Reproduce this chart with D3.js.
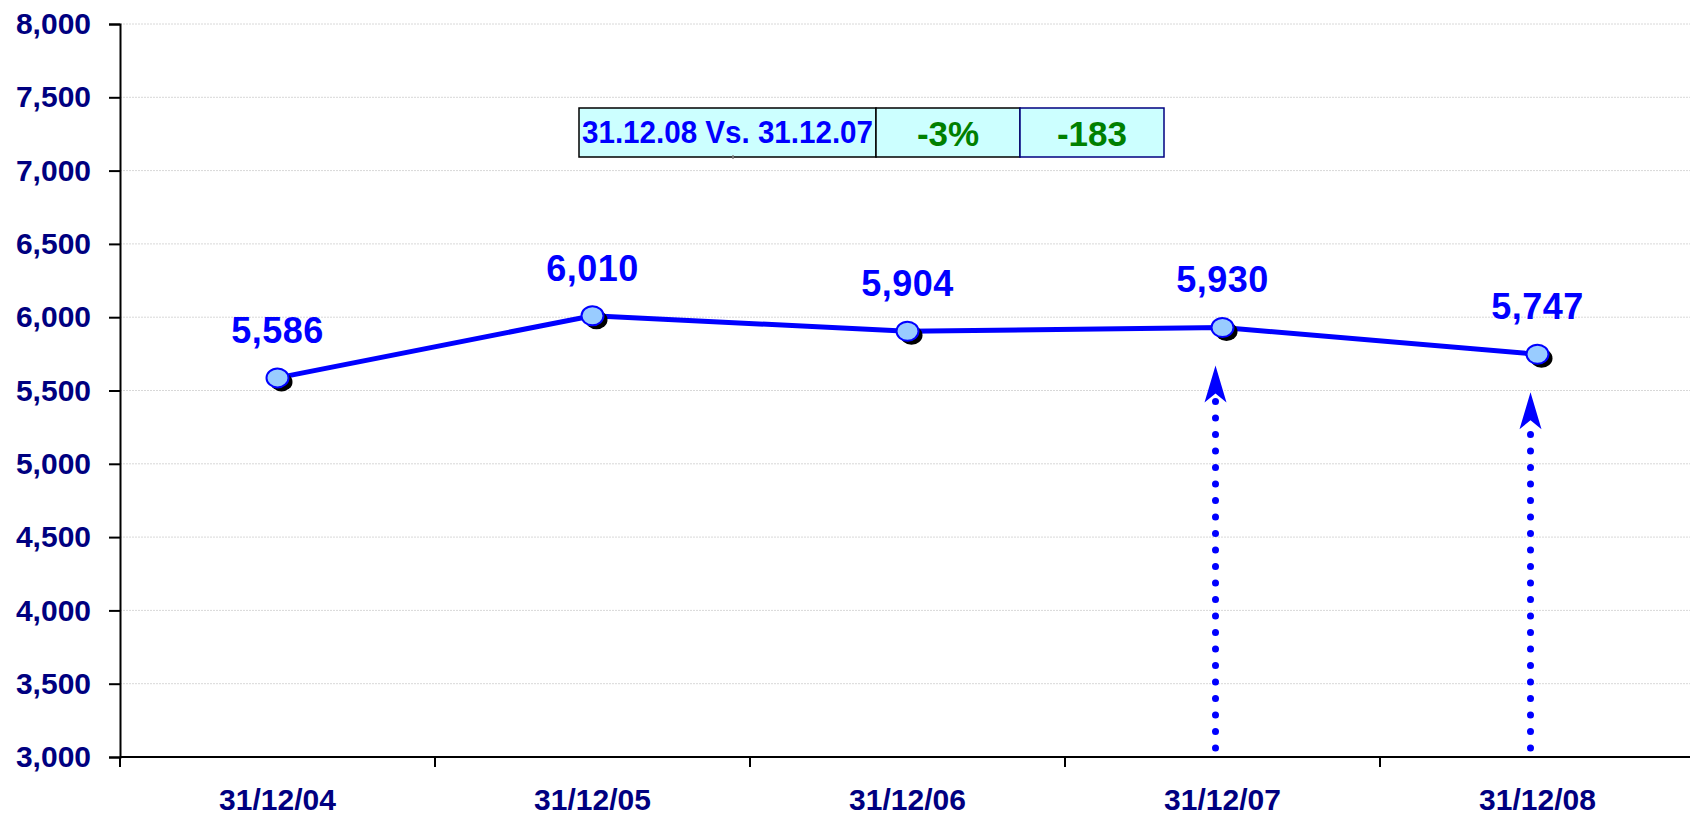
<!DOCTYPE html>
<html lang="en">
<head>
  <meta charset="UTF-8">
  <title>Headcount 2004-2008</title>
  <script src="https://d3js.org/d3.v7.min.js"></script>
  <style>
    body { margin: 0; background: #fff; }
    svg { display: block; font-family: "Liberation Sans", Arial, sans-serif; }
  </style>
</head>
<body>
  <div id="chart"></div>
  <script>
    // data
    const categories = ["31/12/04", "31/12/05", "31/12/06", "31/12/07", "31/12/08"];
    const values = [5586, 6010, 5904, 5930, 5747];
    const yTicks = [3000, 3500, 4000, 4500, 5000, 5500, 6000, 6500, 7000, 7500, 8000];
    const compareCells = ["31.12.08 Vs. 31.12.07", "-3%", "-183"];
    const arrowCats = ["31/12/07", "31/12/08"];

    const width = 1690, height = 816;
    const plotLeft = 120, plotTop = 24, plotBottom = 757, band = 315;

    const svg = d3.select("#chart").append("svg")
      .attr("width", width)
      .attr("height", height);

    const x = d3.scaleBand()
      .domain(categories)
      .range([plotLeft, plotLeft + band * categories.length]);

    const y = d3.scaleLinear()
      .domain([3000, 8000])
      .range([plotBottom, plotTop]);

    const cx = d => x(d) + x.bandwidth() / 2;

    // gridlines
    svg.append("g")
      .selectAll("line")
      .data(yTicks.slice(1))
      .join("line")
      .attr("x1", plotLeft)
      .attr("x2", width)
      .attr("y1", d => y(d))
      .attr("y2", d => y(d))
      .attr("stroke", "#d8d8d8")
      .attr("stroke-width", 1)
      .attr("stroke-dasharray", "2 1");

    // y axis
    const yAxis = svg.append("g")
      .attr("transform", `translate(${plotLeft},0)`)
      .call(d3.axisLeft(y).tickValues(yTicks).tickFormat(d3.format(",")).tickSize(11).tickPadding(18));
    yAxis.select(".domain").attr("stroke", "#000").attr("stroke-width", 2);
    yAxis.selectAll(".tick line").attr("stroke", "#000").attr("stroke-width", 2);
    yAxis.selectAll(".tick text")
      .attr("fill", "#000080")
      .attr("font-size", 30)
      .attr("font-weight", "bold")
      .attr("font-family", "'Liberation Sans', Arial, sans-serif");

    // x axis
    const xg = svg.append("g");
    xg.append("line")
      .attr("x1", plotLeft).attr("x2", width)
      .attr("y1", plotBottom).attr("y2", plotBottom)
      .attr("stroke", "#000").attr("stroke-width", 2);
    xg.selectAll(".xtick")
      .data(categories)
      .join("line")
      .attr("class", "xtick")
      .attr("x1", d => x(d)).attr("x2", d => x(d))
      .attr("y1", plotBottom).attr("y2", plotBottom + 10)
      .attr("stroke", "#000").attr("stroke-width", 2);
    xg.selectAll(".xlabel")
      .data(categories)
      .join("text")
      .attr("class", "xlabel")
      .attr("x", d => cx(d))
      .attr("y", 810)
      .attr("text-anchor", "middle")
      .attr("fill", "#000080")
      .attr("font-size", 30)
      .attr("font-weight", "bold")
      .text(d => d);

    // comparison box
    const cellEdges = [579, 876, 1020, 1164];
    const box = svg.append("g");
    compareCells.forEach((t, i) => {
      box.append("rect")
        .attr("x", cellEdges[i])
        .attr("y", 108)
        .attr("width", cellEdges[i + 1] - cellEdges[i])
        .attr("height", 49)
        .attr("fill", "#ccffff")
        .attr("stroke", i === 2 ? "#000080" : "#000")
        .attr("stroke-width", 1.5);
    });
    box.append("line")
      .attr("x1", 733).attr("x2", 733)
      .attr("y1", 155).attr("y2", 159)
      .attr("stroke", "#888").attr("stroke-width", 1.5);
    box.append("text")
      .attr("x", 582)
      .attr("y", 143)
      .attr("fill", "#0000ff")
      .attr("font-size", 31)
      .attr("font-weight", "bold")
      .attr("textLength", 291)
      .attr("lengthAdjust", "spacingAndGlyphs")
      .text(compareCells[0]);
    [1, 2].forEach(i => {
      box.append("text")
        .attr("x", (cellEdges[i] + cellEdges[i + 1]) / 2)
        .attr("y", 146)
        .attr("text-anchor", "middle")
        .attr("fill", "#008000")
        .attr("font-size", 35)
        .attr("font-weight", "bold")
        .text(compareCells[i]);
    });

    // dotted arrows under the compared points
    const arrows = svg.append("g");
    arrowCats.forEach(c => {
      const ax = cx(c) - 7;
      const tipY = y(values[categories.indexOf(c)]) + 38;
      arrows.append("line")
        .attr("x1", ax).attr("x2", ax)
        .attr("y1", plotBottom - 9).attr("y2", tipY + 26)
        .attr("stroke", "#0000ff")
        .attr("stroke-width", 7)
        .attr("stroke-linecap", "round")
        .attr("stroke-dasharray", "0 16.5");
      arrows.append("path")
        .attr("d", `M${ax},${tipY} L${ax + 11},${tipY + 37} L${ax},${tipY + 28} L${ax - 11},${tipY + 37} Z`)
        .attr("fill", "#0000ff");
    });

    // line
    const line = d3.line()
      .x((d, i) => cx(categories[i]))
      .y(d => y(d));
    svg.append("path")
      .datum(values)
      .attr("d", line)
      .attr("fill", "none")
      .attr("stroke", "#0000ff")
      .attr("stroke-width", 5);

    // markers with shadow
    svg.append("g")
      .selectAll("ellipse")
      .data(values)
      .join("ellipse")
      .attr("cx", (d, i) => cx(categories[i]) + 4)
      .attr("cy", d => y(d) + 4)
      .attr("rx", 11)
      .attr("ry", 9.5)
      .attr("fill", "#000");
    svg.append("g")
      .selectAll("ellipse")
      .data(values)
      .join("ellipse")
      .attr("cx", (d, i) => cx(categories[i]))
      .attr("cy", d => y(d))
      .attr("rx", 11)
      .attr("ry", 9.5)
      .attr("fill", "#99ccff")
      .attr("stroke", "#0000ff")
      .attr("stroke-width", 2);

    // value labels
    svg.append("g")
      .selectAll("text")
      .data(values)
      .join("text")
      .attr("x", (d, i) => cx(categories[i]))
      .attr("y", d => y(d) - 35)
      .attr("text-anchor", "middle")
      .attr("fill", "#0000ff")
      .attr("font-size", 36)
      .attr("font-weight", "bold")
      .attr("letter-spacing", 0.5)
      .text(d => d3.format(",")(d));
  </script>
</body>
</html>
